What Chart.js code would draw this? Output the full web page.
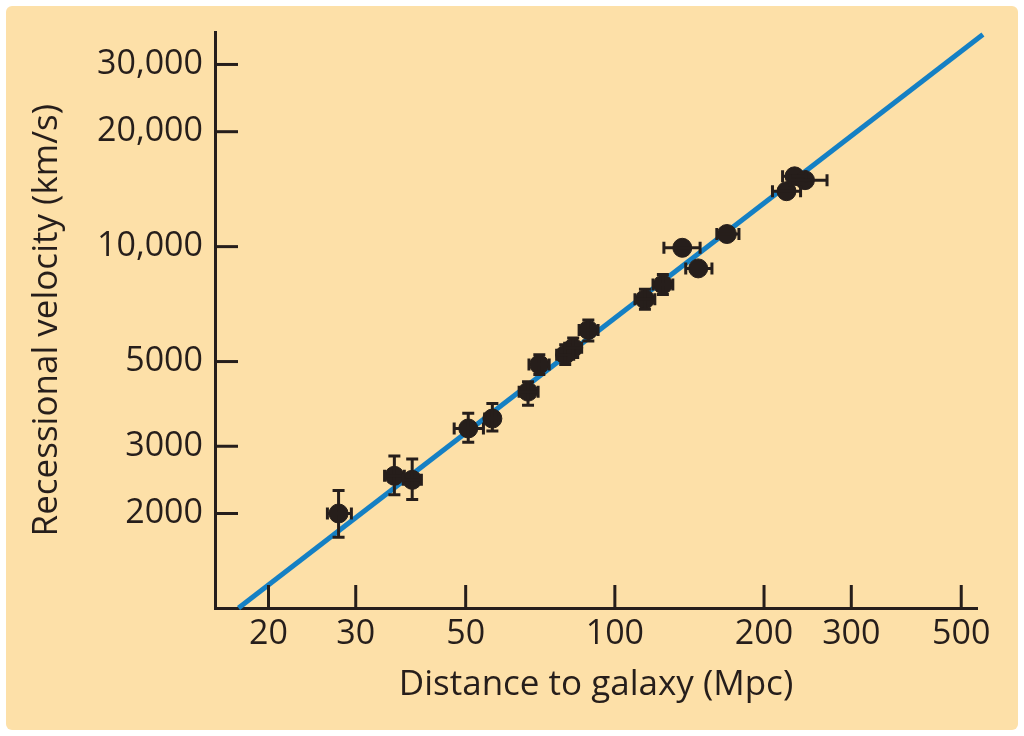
<!DOCTYPE html>
<html>
<head>
<meta charset="utf-8">
<script src="https://cdn.jsdelivr.net/npm/chart.js@4/dist/chart.umd.min.js"></script>
<style>
  body { margin: 0; background: #ffffff; }
  #panel { position: absolute; left: 6px; top: 6px; width: 1012px; height: 724px; background: #fde0a8; border-radius: 6px; }
  #hubble { position: absolute; left: 0; top: 0; }
</style>
</head>
<body>
<div id="panel"></div>
<canvas id="hubble" width="1024" height="736"></canvas>
<script>

// galaxies (Mpc, km/s) with error bar ends
var distance = [27.7, 35.9, 39.0, 50.6, 56.6, 66.8, 70.4, 79.4, 82.4, 88.4, 115, 125, 136.8, 147.3, 168.3, 222, 230.5, 241.9];
var velocity = [2000, 2510, 2450, 3340, 3545, 4170, 4910, 5210, 5430, 6050, 7280, 7960, 9930, 8770, 10790, 13970, 15280, 14930];
var distLow  = [26.3, 34.3, 37.4, 47.4, 54.6, 64.1, 67.1, 76.3, 79.2, 84.7, 109.8, 119.4, 125.6, 139, 160.6, 208, 218, 226];
var distHigh = [29.4, 37.6, 40.7, 54.3, 58.3, 70.0, 73.7, 82.6, 85.7, 92.5, 120.4, 130.9, 148.6, 157, 178, 237, 243, 268];
var velLow   = [1733, 2240, 2175, 3075, 3290, 3840, 4625, 4910, 5120, 5660, 6855, 7495, 9930, 8770, 10790, 13970, 15280, 14930];
var velHigh  = [2296, 2830, 2780, 3660, 3880, 4425, 5210, 5530, 5760, 6420, 7730, 8455, 9930, 8770, 10790, 13970, 15280, 14930];

// fitted line ends
var fitDistance = [17.4, 553];
var fitVelocity = [1131, 35945];

// ticks
var xTicks = [20, 30, 50, 100, 200, 300, 500];
var xTickLabels = ['20', '30', '50', '100', '200', '300', '500'];
var yTicks = [2000, 3000, 5000, 10000, 20000, 30000];
var yTickLabels = ['2000', '3000', '5000', '10,000', '20,000', '30,000'];

var ink = '#261e1b';
var blue = '#1580c4';
var tickFont = { family: 'Open Sans', size: 34 };
var titleFont = { family: 'Open Sans', size: 35 };

function points(xs, ys){
  return xs.map(function(x, i){ return { x: x, y: ys[i] }; });
}

// ticks pointing into the plot
var innerTicks = {
  id: 'innerTicks',
  afterDraw: function(chart){
    var ctx = chart.ctx;
    var x = chart.scales.x;
    var y = chart.scales.y;
    ctx.save();
    ctx.strokeStyle = ink;
    ctx.lineWidth = 3;
    xTicks.forEach(function(v){
      var px = x.getPixelForValue(v);
      ctx.beginPath();
      ctx.moveTo(px, x.top);
      ctx.lineTo(px, x.top - 23);
      ctx.stroke();
    });
    yTicks.forEach(function(v){
      var py = y.getPixelForValue(v);
      ctx.beginPath();
      ctx.moveTo(y.right, py);
      ctx.lineTo(y.right + 23, py);
      ctx.stroke();
    });
    ctx.restore();
  }
};

// error bars
var errorBars = {
  id: 'errorBars',
  afterDatasetsDraw: function(chart){
    var ctx = chart.ctx;
    var x = chart.scales.x;
    var y = chart.scales.y;
    var cap = 6;
    ctx.save();
    ctx.strokeStyle = ink;
    ctx.lineWidth = 3;
    distance.forEach(function(d, i){
      var px = x.getPixelForValue(d);
      var py = y.getPixelForValue(velocity[i]);
      if (velLow[i] != velHigh[i]) {
        var y1 = y.getPixelForValue(velLow[i]);
        var y2 = y.getPixelForValue(velHigh[i]);
        ctx.beginPath();
        ctx.moveTo(px, y1); ctx.lineTo(px, y2);
        ctx.moveTo(px - cap, y1); ctx.lineTo(px + cap, y1);
        ctx.moveTo(px - cap, y2); ctx.lineTo(px + cap, y2);
        ctx.stroke();
      }
      if (distLow[i] != distHigh[i]) {
        var x1 = x.getPixelForValue(distLow[i]);
        var x2 = x.getPixelForValue(distHigh[i]);
        ctx.beginPath();
        ctx.moveTo(x1, py); ctx.lineTo(x2, py);
        ctx.moveTo(x1, py - cap); ctx.lineTo(x1, py + cap);
        ctx.moveTo(x2, py - cap); ctx.lineTo(x2, py + cap);
        ctx.stroke();
      }
    });
    ctx.restore();
  }
};

var ctx = document.getElementById('hubble');
var chart = new Chart(ctx, {
  type: 'scatter',
  data: {
    datasets: [{
      label: 'galaxies',
      data: points(distance, velocity),
      backgroundColor: ink,
      borderColor: ink,
      pointRadius: 9.5,
      pointHoverRadius: 9.5
    }, {
      label: 'fit',
      type: 'line',
      data: points(fitDistance, fitVelocity),
      borderColor: blue,
      borderWidth: 5,
      pointRadius: 0,
      fill: false,
      clip: false
    }]
  },
  options: {
    responsive: false,
    animation: false,
    layout: { padding: { left: 20, top: 28, right: 47, bottom: 0 } },
    plugins: { legend: { display: false }, tooltip: { enabled: false } },
    scales: {
      x: {
        type: 'logarithmic',
        min: 15.6,
        max: 538,
        afterBuildTicks: function(scale){
          scale.ticks = xTicks.map(function(v){ return { value: v }; });
        },
        afterFit: function(scale){ scale.height = 128; },
        grid: { drawOnChartArea: false, drawTicks: false },
        border: { color: ink, width: 3 },
        ticks: {
          font: tickFont,
          color: ink,
          padding: 6,
          maxRotation: 0,
          autoSkip: false,
          callback: function(v){ return xTickLabels[xTicks.indexOf(v)]; }
        },
        title: { display: true, text: 'Distance to galaxy (Mpc)', font: titleFont, color: ink, padding: { top: 0, bottom: 30 } }
      },
      y: {
        type: 'logarithmic',
        min: 1131,
        max: 36400,
        afterBuildTicks: function(scale){
          scale.ticks = yTicks.map(function(v){ return { value: v }; });
        },
        afterFit: function(scale){ scale.width = 195; },
        grid: { drawOnChartArea: false, drawTicks: false },
        border: { color: ink, width: 3 },
        ticks: {
          font: tickFont,
          color: ink,
          padding: 12,
          autoSkip: false,
          callback: function(v){ return yTickLabels[yTicks.indexOf(v)]; }
        },
        title: { display: true, text: 'Recessional velocity (km/s)', font: titleFont, color: ink, padding: { top: 6, bottom: 0 } }
      }
    }
  },
  plugins: [innerTicks, errorBars]
});

</script>
</body>
</html>
